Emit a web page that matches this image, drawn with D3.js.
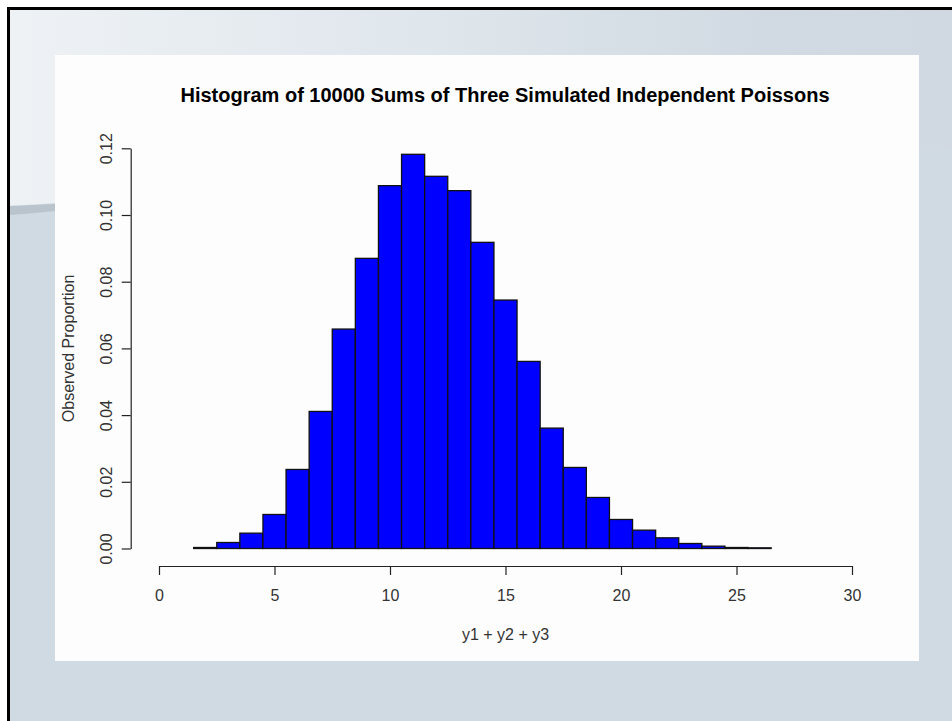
<!DOCTYPE html>
<html>
<head>
<meta charset="utf-8">
<script src="https://cdn.jsdelivr.net/npm/d3@7"></script>
<style>
  html, body { margin: 0; padding: 0; background: #ffffff; }
  svg { display: block; }
  text { font-family: "Liberation Sans", Arial, Helvetica, sans-serif; }
</style>
</head>
<body>
<svg id="chart" width="952" height="721"></svg>
<script>
// Sums of three simulated Poisson draws: observed proportion per integer value
const binCenters = [2, 3, 4, 5, 6, 7, 8, 9, 10, 11, 12, 13, 14, 15, 16, 17, 18, 19, 20, 21, 22, 23, 24, 25, 26];
const proportions = [0.0003, 0.0018, 0.0046, 0.0102, 0.0237, 0.0411, 0.0658, 0.0870, 0.1088, 0.1182,
                     0.1116, 0.1073, 0.0918, 0.0745, 0.0561, 0.0361, 0.0243, 0.0153, 0.0087, 0.0055,
                     0.0032, 0.0015, 0.0007, 0.0003, 0.0002];
const xTicks = [0, 5, 10, 15, 20, 25, 30];
const yTicks = [0.00, 0.02, 0.04, 0.06, 0.08, 0.10, 0.12];
const xTickLabels = ["0", "5", "10", "15", "20", "25", "30"];
const yTickLabels = ["0.00", "0.02", "0.04", "0.06", "0.08", "0.10", "0.12"];

const titleText = "Histogram of 10000 Sums of Three Simulated Independent Poissons";
const xLabel = "y1 + y2 + y3";
const yLabel = "Observed Proportion";

const svg = d3.select("#chart");

// ---- slide background ----
const defs = svg.append("defs");
const grad = defs.append("linearGradient").attr("id", "topGlow")
  .attr("x1", "0%").attr("y1", "0%").attr("x2", "100%").attr("y2", "0%");
grad.append("stop").attr("offset", "0%").attr("stop-color", "#eef2f5");
grad.append("stop").attr("offset", "45%").attr("stop-color", "#dfe6ec");
grad.append("stop").attr("offset", "80%").attr("stop-color", "#d1dae2");
grad.append("stop").attr("offset", "100%").attr("stop-color", "#d0d9e1");

svg.append("rect").attr("x", 0).attr("y", 0).attr("width", 952).attr("height", 721).attr("fill", "#ffffff");
svg.append("rect").attr("x", 8).attr("y", 8).attr("width", 944).attr("height", 713).attr("fill", "#d0dae2");

// lighter upper sweep, ending in a soft grey band on the left
svg.append("path")
  .attr("d", "M8,8 L952,8 L952,150 C700,160 300,190 8,206 Z")
  .attr("fill", "url(#topGlow)");
svg.append("path")
  .attr("d", "M8,206 C40,205 50,204 70,203 L70,210 C50,211 40,213 8,215 Z")
  .attr("fill", "#b9c4cd");

// black frame on top and left edges
svg.append("rect").attr("x", 7).attr("y", 7).attr("width", 945).attr("height", 3).attr("fill", "#000");
svg.append("rect").attr("x", 7).attr("y", 7).attr("width", 3).attr("height", 714).attr("fill", "#000");

// white plot panel
svg.append("rect").attr("x", 55).attr("y", 55).attr("width", 864).attr("height", 606).attr("fill", "#fdfdfd");

// ---- scales ----
const x = d3.scaleLinear().domain([0, 30]).range([159, 852]);
const y = d3.scaleLinear().domain([0, 0.12]).range([548.5, 148.3]);

// ---- bars ----
svg.append("g")
  .selectAll("rect")
  .data(binCenters.map((c, i) => ({ c, v: proportions[i] })))
  .join("rect")
  .attr("x", d => x(d.c - 0.5))
  .attr("width", d => x(d.c + 0.5) - x(d.c - 0.5))
  .attr("y", d => y(d.v))
  .attr("height", d => y(0) - y(d.v))
  .attr("fill", "#0000ff")
  .attr("stroke", "#111")
  .attr("stroke-width", 1.3);

// ---- x axis ----
const xAxis = svg.append("g")
  .attr("transform", "translate(0,566)")
  .call(d3.axisBottom(x).tickValues(xTicks).tickFormat((d, i) => xTickLabels[i])
    .tickSize(9).tickSizeOuter(0).tickPadding(15));
xAxis.select(".domain").attr("stroke", "#222").attr("stroke-width", 1.2);
xAxis.selectAll(".tick line").attr("stroke", "#222").attr("stroke-width", 1.2);
xAxis.selectAll(".tick text")
  .attr("fill", "#333").attr("font-size", 16)
  .attr("font-family", "\"Liberation Sans\", Arial, sans-serif");

// ---- y axis ----
const yAxis = svg.append("g")
  .attr("transform", "translate(130.7,0)")
  .call(d3.axisLeft(y).tickValues(yTicks).tickFormat((d, i) => yTickLabels[i])
    .tickSize(9).tickSizeOuter(0));
yAxis.select(".domain").attr("stroke", "#222").attr("stroke-width", 1.2);
yAxis.selectAll(".tick line").attr("stroke", "#222").attr("stroke-width", 1.2);
yAxis.selectAll(".tick text")
  .attr("x", null).attr("dy", null)
  .attr("transform", "translate(-19,0) rotate(-90)")
  .attr("text-anchor", "middle")
  .attr("fill", "#333").attr("font-size", 16)
  .attr("font-family", "\"Liberation Sans\", Arial, sans-serif");

// ---- titles ----
svg.append("text")
  .attr("x", 505).attr("y", 102)
  .attr("text-anchor", "middle")
  .attr("font-size", 20).attr("font-weight", "bold").attr("fill", "#000")
  .text(titleText);

svg.append("text")
  .attr("x", 505.5).attr("y", 640)
  .attr("text-anchor", "middle")
  .attr("font-size", 16).attr("fill", "#333")
  .text(xLabel);

svg.append("text")
  .attr("transform", "translate(74,348.4) rotate(-90)")
  .attr("text-anchor", "middle")
  .attr("font-size", 16).attr("fill", "#333")
  .text(yLabel);
</script>
</body>
</html>
